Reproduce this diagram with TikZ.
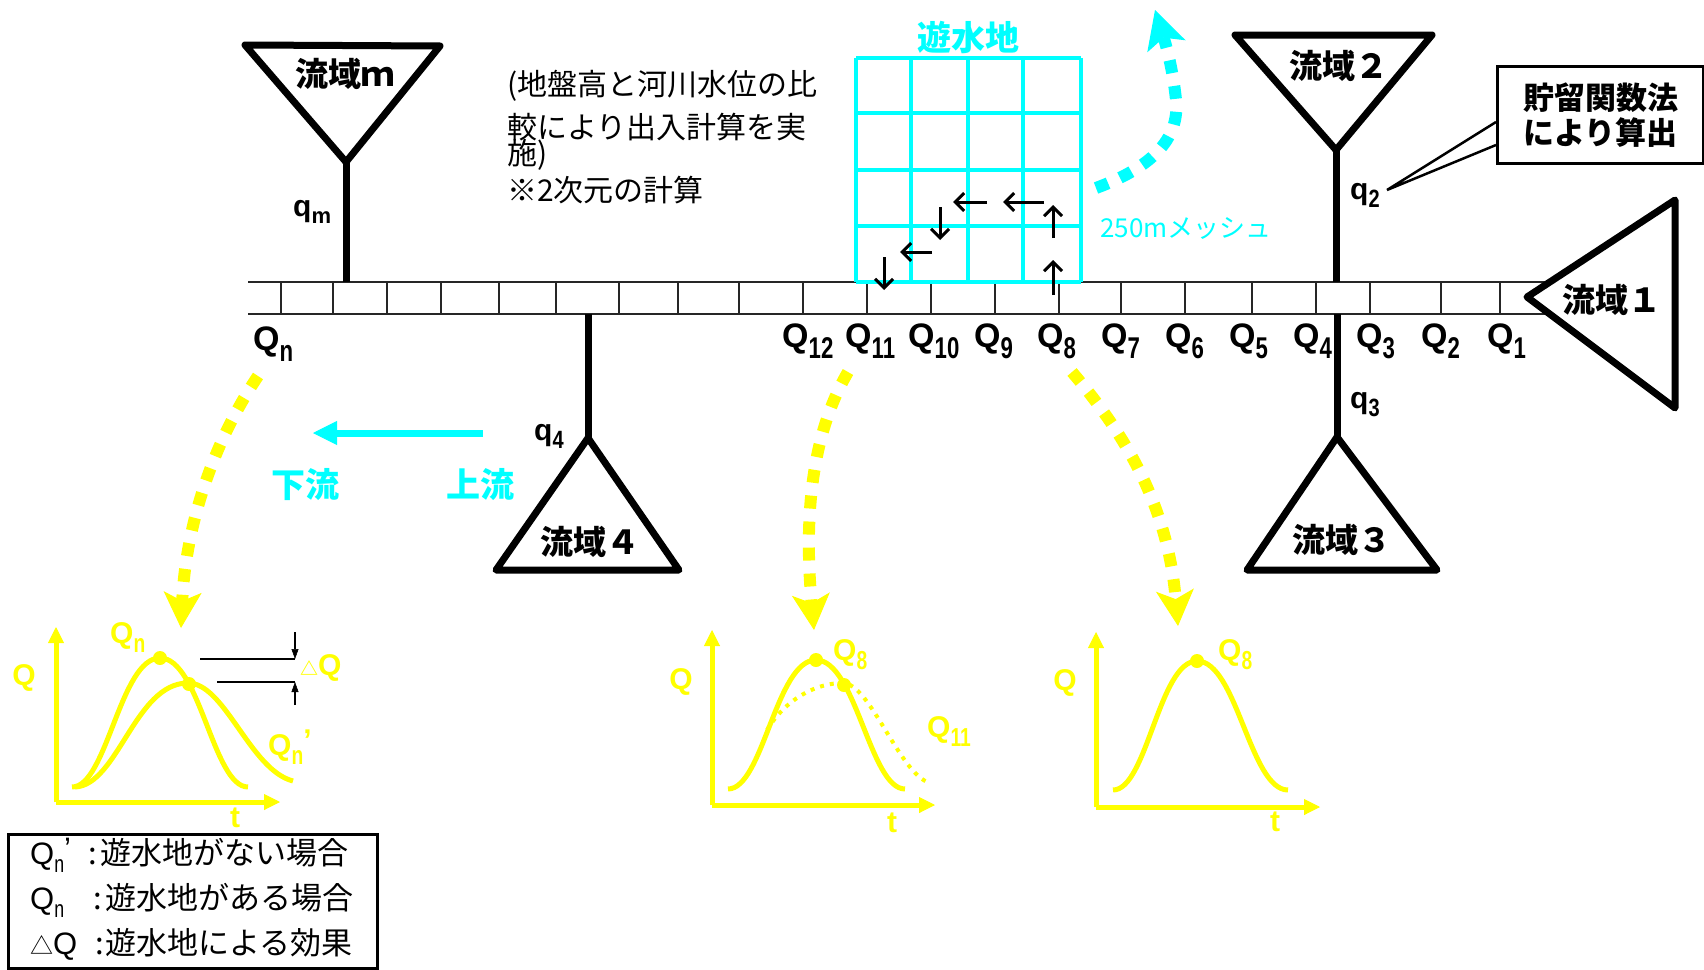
\documentclass[tikz,border=0pt]{standalone}
\usepackage{fontspec}
\usepackage{graphicx}
\setmainfont{Liberation Sans}
\newfontfamily\jp{Noto Sans CJK JP}
\usetikzlibrary{arrows.meta}
\definecolor{cyn}{RGB}{0,255,255}
\definecolor{ylw}{RGB}{255,255,0}
\newcommand\Qs[3]{Q\raisebox{-#2}{\fontsize{#1}{#1}\selectfont\scalebox{0.74}[1]{#3}}}
\begin{document}
\begin{tikzpicture}[x=1pt,y=-1pt,
  basin/.style={line width=7pt,line join=round,fill=white},
  stemline/.style={line width=7pt},
  blab/.style={font=\jp\bfseries\fontsize{33}{33}\selectfont,inner sep=0pt},
  qlab/.style={font=\bfseries\fontsize{30}{30}\selectfont,inner sep=0pt,anchor=base west},
  Qbar/.style={font=\bfseries\fontsize{34}{34}\selectfont,inner sep=0pt,anchor=base west},
  ylab/.style={ylw,font=\bfseries\fontsize{30}{30}\selectfont,inner sep=0pt},
  cylab/.style={cyn,font=\jp\bfseries\fontsize{34}{34}\selectfont,inner sep=0pt},
  jtxt/.style={font=\jp\fontsize{30}{30}\selectfont,inner sep=0pt,anchor=base west},
  legtxt/.style={font=\jp\fontsize{31}{31}\selectfont,inner sep=0pt,anchor=base west},
  flow/.style={line width=3pt,-{Straight Barb[length=9pt,width=18pt,line width=3pt]}},
  ydash/.style={ylw,line width=12pt,dash pattern=on 13pt off 13pt,-{Stealth[length=36pt,width=38pt,inset=9pt,line width=1pt]}},
  cdash/.style={cyn,line width=12pt,dash pattern=on 13pt off 13pt,-{Stealth[length=38pt,width=40pt,inset=9pt,line width=1pt]}},
  axis/.style={ylw,line width=5pt,-{Triangle[length=16pt,width=16pt,line width=1pt]}},
  curve/.style={ylw,line width=5pt},
  dcurve/.style={ylw,line width=4pt,dash pattern=on 4pt off 6pt},
  ydot/.style={ylw,fill=ylw},
  dq/.style={line width=1.5pt},
  dqa/.style={line width=1.5pt,-{Triangle[length=10pt,width=7pt,line width=0.5pt]}}
]
\useasboundingbox (0,0) rectangle (1704,969);

% ---------- channel bar ----------
\coordinate (barTL) at (248,282);
\coordinate (barTR) at (1549,282);
\coordinate (barBL) at (248,314);
\coordinate (barBR) at (1549,314);
\draw[line width=2pt,black!85] (barTL) -- (barTR) (barBL) -- (barBR);
\foreach \x in {281,333,387,441,499,556,619,678,739,803,867,931,995,1059,1121,1185,1252,1316,1370,1441,1500}
  \draw[line width=1.4pt,black!85] (\x,282) -- (\x,314);

% ---------- retention pond grid ----------
\foreach \x in {856,911,968,1023,1081}
  \draw[cyn,line width=3.5pt] (\x,58) -- (\x,282);
\foreach \y in {58,113,170,226,282}
  \draw[cyn,line width=3.5pt] (856,\y) -- (1081,\y);
\node[cylab] (pond) at (968,37) {遊水地};
\node[cyn,font=\jp\fontsize{26}{26}\selectfont,inner sep=0pt,anchor=west] (mesh) at (1100,228) {250mメッシュ};

% flow arrows in grid
\coordinate (f1s) at (1053,295); \coordinate (f1e) at (1053,260);
\coordinate (f2s) at (1053,238); \coordinate (f2e) at (1053,205);
\coordinate (f3s) at (1044,202); \coordinate (f3e) at (1003,202);
\coordinate (f4s) at (987,202);  \coordinate (f4e) at (953,202);
\coordinate (f5s) at (940,207);  \coordinate (f5e) at (940,240);
\coordinate (f6s) at (932,252);  \coordinate (f6e) at (900,252);
\coordinate (f7s) at (884,257);  \coordinate (f7e) at (884,290);
\foreach \i in {1,...,7} \draw[flow] (f\i s) -- (f\i e);

% cyan dotted arrow
\coordinate (cs) at (1096,188);
\coordinate (cm) at (1176,100);
\coordinate (ce) at (1155,10);
\draw[cdash] (cs) .. controls (1150,168) and (1180,140) .. (cm) .. controls (1173,70) and (1166,45) .. (ce);

% ---------- basins ----------
\coordinate (m1) at (245,45); \coordinate (m2) at (440,46); \coordinate (m3) at (346,162);
\coordinate (bm) at (346,282);
\draw[stemline] (m3) -- (bm);
\draw[basin] (m1) -- (m2) -- (m3) -- cycle;
\node[blab] (bsm) at (345,74) {流域ｍ};
\node[qlab] (qm) at (293,216) {q\raisebox{-7pt}{\fontsize{22}{22}\selectfont m}};

\coordinate (t21) at (1235,35); \coordinate (t22) at (1432,35); \coordinate (t23) at (1336,150);
\coordinate (b2) at (1336,282);
\draw[stemline] (t23) -- (b2);
\draw[basin] (t21) -- (t22) -- (t23) -- cycle;
\node[blab] (bs2) at (1339,66) {流域２};
\node[qlab] (q2) at (1350,199) {q\raisebox{-8pt}{\fontsize{25}{25}\selectfont\scalebox{0.8}[1]{2}}};

\coordinate (t31) at (1337,437); \coordinate (t32) at (1247,570); \coordinate (t33) at (1437,570);
\coordinate (b3) at (1337,314);
\draw[stemline] (b3) -- (t31);
\draw[basin] (t31) -- (t32) -- (t33) -- cycle;
\node[blab] (bs3) at (1342,540) {流域３};
\node[qlab] (q3) at (1350,408) {q\raisebox{-8pt}{\fontsize{25}{25}\selectfont\scalebox{0.8}[1]{3}}};

\coordinate (t41) at (588,438); \coordinate (t42) at (496,570); \coordinate (t43) at (679,570);
\coordinate (b4) at (588,314);
\draw[stemline] (b4) -- (t41);
\draw[basin] (t41) -- (t42) -- (t43) -- cycle;
\node[blab] (bs4) at (590,542) {流域４};
\node[qlab] (q4) at (534,440) {q\raisebox{-8pt}{\fontsize{25}{25}\selectfont\scalebox{0.8}[1]{4}}};

\coordinate (t11) at (1527,297); \coordinate (t12) at (1675,200); \coordinate (t13) at (1675,408);
\draw[basin] (t11) -- (t12) -- (t13) -- cycle;
\node[blab] (bs1) at (1612,300) {流域１};

% ---------- callout ----------
\node[draw,line width=3pt,fill=white,minimum width=206pt,minimum height=97pt,inner sep=0pt,anchor=north west] (call) at (1496,65) {};
\node[font=\jp\bfseries\fontsize{31}{35}\selectfont,align=center,inner sep=0pt] (calltxt) at (call.center) {貯留関数法\\により算出};
\coordinate (cp1) at ([yshift=-57pt]call.north west);
\coordinate (cp2) at ([yshift=-80pt]call.north west);
\coordinate (cpt) at (1387,190);
\draw[line width=2.5pt,line join=miter] (cp1) -- (cpt) -- (cp2);

% ---------- explanation text ----------
\node[jtxt] (n1) at (507,95) {(地盤高と河川水位の比};
\node[jtxt] (n2) at (507,138) {較により出入計算を実};
\node[jtxt] (n3) at (507,164) {施)};
\node[jtxt] (n4) at (507,201) {※2次元の計算};

% ---------- Q labels ----------
\node[Qbar] (Qn) at (253,350) {\Qs{30}{11pt}{n}};
\node[Qbar] (Q12) at (782,347) {\Qs{30}{11pt}{12}};
\node[Qbar] (Q11) at (845,347) {\Qs{30}{11pt}{11}};
\node[Qbar] (Q10) at (908,347) {\Qs{30}{11pt}{10}};
\node[Qbar] (Q9) at (974,347) {\Qs{30}{11pt}{9}};
\node[Qbar] (Q8) at (1037,347) {\Qs{30}{11pt}{8}};
\node[Qbar] (Q7) at (1101,347) {\Qs{30}{11pt}{7}};
\node[Qbar] (Q6) at (1165,347) {\Qs{30}{11pt}{6}};
\node[Qbar] (Q5) at (1229,347) {\Qs{30}{11pt}{5}};
\node[Qbar] (Q4) at (1293,347) {\Qs{30}{11pt}{4}};
\node[Qbar] (Q3) at (1356,347) {\Qs{30}{11pt}{3}};
\node[Qbar] (Q2) at (1421,347) {\Qs{30}{11pt}{2}};
\node[Qbar] (Q1) at (1487,347) {\Qs{30}{11pt}{1}};

% ---------- flow direction ----------
\coordinate (fdS) at (483,433);
\coordinate (fdE) at (313,433);
\draw[cyn,line width=7pt,-{Triangle[length=24pt,width=24pt,line width=1pt]}] (fdS) -- (fdE);
\node[cylab] (down) at (305,485) {下流};
\node[cylab] (up) at (480,485) {上流};

% ---------- yellow arrows ----------
\coordinate (ya1s) at (258,376); \coordinate (ya1e) at (181,628);
\draw[ydash] (ya1s) .. controls (205,455) and (185,540) .. (ya1e);
\coordinate (ya2s) at (848,372); \coordinate (ya2e) at (814,630);
\draw[ydash] (ya2s) .. controls (805,445) and (806,540) .. (ya2e);
\coordinate (ya3s) at (1072,372); \coordinate (ya3e) at (1178,626);
\draw[ydash] (ya3s) .. controls (1130,440) and (1168,510) .. (ya3e);

% ---------- graph 1 ----------
\coordinate (g1o) at (56,802); \coordinate (g1y) at (56,627); \coordinate (g1x) at (280,802);
\draw[axis] (g1o) -- (g1y);
\draw[axis] (g1o) -- (g1x);
\draw[curve] (72,787) .. controls (107,787) and (120,658) .. (160,658) .. controls (200,658) and (213,787) .. (248,787);
\draw[curve] (75,787) .. controls (118,785) and (135,683) .. (188,683) .. controls (225,683) and (250,770) .. (293,781);
\node[ydot,circle,inner sep=0pt,minimum size=14pt] (d11) at (160,658) {};
\node[ydot,circle,inner sep=0pt,minimum size=14pt] (d12) at (189,684) {};
\node[ylab] (g1Q) at (24,678) {Q};
\node[ylab] (g1t) at (235,818) {t};
\node[ylab,anchor=base west] (g1Qn) at (110,643) {\Qs{26}{9pt}{n}};
\node[ylab,anchor=base west] (g1Qnp) at (268,755) {\Qs{26}{9pt}{n}\raisebox{5pt}{’}};
\coordinate (l1a) at (200,659); \coordinate (l1b) at (295,659);
\coordinate (l2a) at (217,682); \coordinate (l2b) at (295,682);
\draw[dq] (l1a) -- (l1b);
\draw[dq] (l2a) -- (l2b);
\coordinate (a1t) at (295,632); \coordinate (a2b) at (295,705);
\draw[dqa] (a1t) -- (l1b);
\draw[dqa] (a2b) -- (l2b);
\node[ylab,anchor=base west] (dQ) at (300,675) {{\jp\bfseries\fontsize{18}{18}\selectfont △}Q};

% ---------- graph 2 ----------
\coordinate (g2o) at (712,805); \coordinate (g2y) at (712,630); \coordinate (g2x) at (935,805);
\draw[axis] (g2o) -- (g2y);
\draw[axis] (g2o) -- (g2x);
\draw[dcurve] (767,730) .. controls (785,700) and (815,683) .. (843,683) .. controls (870,683) and (900,775) .. (930,783);
\draw[curve] (728,789) .. controls (763,789) and (776,660) .. (816,660) .. controls (856,660) and (870,789) .. (905,789);
\node[ydot,circle,inner sep=0pt,minimum size=14pt] (d21) at (816,660) {};
\node[ydot,circle,inner sep=0pt,minimum size=14pt] (d22) at (844,685) {};
\node[ylab] (g2Q) at (681,682) {Q};
\node[ylab] (g2t) at (892,823) {t};
\node[ylab,anchor=base west] (g2Q8) at (833,660) {\Qs{26}{9pt}{8}};
\node[ylab,anchor=base west] (g2Q11) at (927,737) {\Qs{26}{9pt}{11}};

% ---------- graph 3 ----------
\coordinate (g3o) at (1096,807); \coordinate (g3y) at (1096,632); \coordinate (g3x) at (1320,807);
\draw[axis] (g3o) -- (g3y);
\draw[axis] (g3o) -- (g3x);
\draw[curve] (1113,790) .. controls (1147,790) and (1159,661) .. (1197,661) .. controls (1237,661) and (1250,790) .. (1288,790);
\node[ydot,circle,inner sep=0pt,minimum size=14pt] (d31) at (1197,661) {};
\node[ylab] (g3Q) at (1065,683) {Q};
\node[ylab] (g3t) at (1275,822) {t};
\node[ylab,anchor=base west] (g3Q8) at (1218,660) {\Qs{26}{9pt}{8}};

% ---------- legend ----------
\node[draw,line width=3pt,minimum width=369pt,minimum height=134pt,inner sep=0pt,anchor=north west] (leg) at (7,833) {};
\node[legtxt] (lg1) at (30,864)
  {\makebox[58pt][l]{\rmfamily\mdseries\fontsize{31}{31}\selectfont\Qs{24}{8pt}{n}\raisebox{5pt}{’}}\makebox[12pt][l]{:}遊水地がない場合};
\node[legtxt] (lg2) at (30,909)
  {\makebox[63pt][l]{\rmfamily\mdseries\fontsize{31}{31}\selectfont\Qs{24}{8pt}{n}}\makebox[12pt][l]{:}遊水地がある場合};
\node[legtxt] (lg3) at (30,954)
  {\makebox[65pt][l]{{\jp\fontsize{23}{23}\selectfont △}\rmfamily\mdseries\fontsize{31}{31}\selectfont Q}\makebox[10pt][l]{:}遊水地による効果};
\end{tikzpicture}
\end{document}
